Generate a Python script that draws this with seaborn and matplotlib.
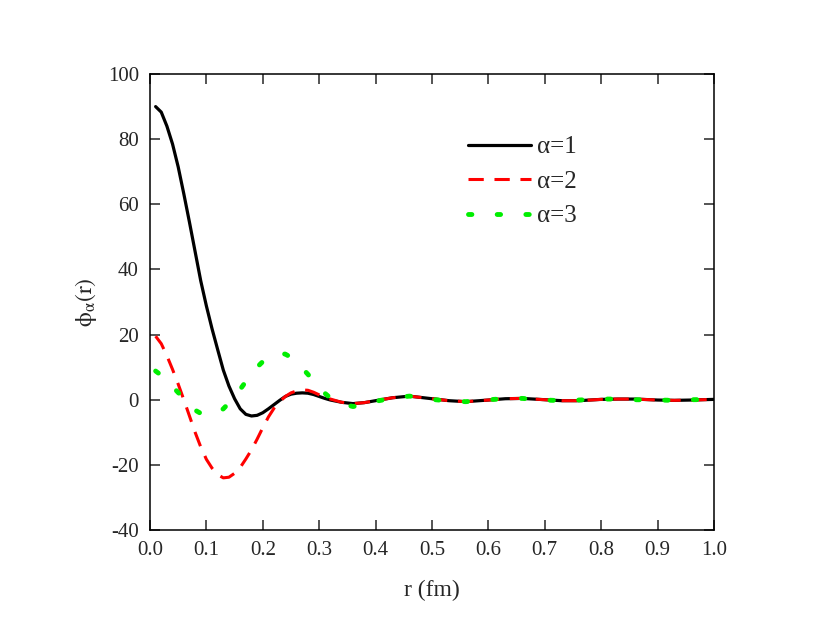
import pandas as pd
import numpy as np
import matplotlib
matplotlib.use('Agg')
import matplotlib.pyplot as plt
import seaborn as sns

# radial grid (fm) and the three components
r = [0.01, 0.02, 0.03, 0.04, 0.05, 0.06, 0.07, 0.08, 0.09, 0.10,
     0.11, 0.12, 0.13, 0.14, 0.15, 0.16, 0.17, 0.18, 0.19, 0.20,
     0.21, 0.22, 0.23, 0.24, 0.25, 0.26, 0.27, 0.28, 0.29, 0.30,
     0.31, 0.32, 0.34, 0.36, 0.38, 0.40, 0.43, 0.46, 0.50, 0.53,
     0.56, 0.60, 0.63, 0.66, 0.70, 0.73, 0.76, 0.80, 0.83, 0.86,
     0.90, 0.93, 0.96, 1.00]

phi1 = [90, 88.3, 84, 78.5, 71.5, 63.2, 54.5, 45.5, 36.5, 28.8,
        21.8, 15.4, 9.1, 4.2, 0.3, -2.8, -4.5, -5.0, -4.8, -4.0,
        -2.8, -1.5, -0.2, 1.0, 1.7, 2.0, 2.1, 2.0, 1.6, 1.0,
        0.4, -0.1, -0.8, -1.2, -0.9, -0.3, 0.6, 1.1, 0.3, -0.3,
        -0.6, -0.1, 0.3, 0.4, 0.0, -0.3, -0.3, 0.1, 0.2, 0.2,
        -0.1, -0.2, -0.1, 0.1]

phi2 = [19.5, 17.2, 13.5, 9.3, 4.8, 0.0, -5.0, -10.0, -14.5, -18.3,
        -21.0, -23.0, -24.0, -23.8, -22.6, -20.8, -18.2, -15.4, -12.1, -8.6,
        -5.3, -2.6, -0.6, 1.0, 2.1, 2.7, 3.0, 2.9, 2.3, 1.5,
        0.8, 0.2, -0.8, -1.2, -0.9, -0.3, 0.6, 1.1, 0.3, -0.3,
        -0.6, -0.1, 0.3, 0.4, 0.0, -0.3, -0.3, 0.1, 0.2, 0.2,
        -0.1, -0.2, -0.1, 0.1]

phi3 = [8.8, 7.5, 5.8, 4.0, 2.2, 0.5, -1.5, -3.2, -4.2, -4.6,
        -4.6, -4.0, -2.8, -1.0, 1.0, 3.2, 5.6, 8.0, 10.0, 11.7,
        13.0, 13.8, 14.2, 14.0, 13.0, 11.5, 9.7, 7.8, 5.8, 3.8,
        2.0, 0.5, -1.2, -2.1, -1.5, -0.5, 0.5, 1.1, 0.1, -0.4,
        -0.6, 0.0, 0.3, 0.4, -0.1, -0.3, -0.1, 0.2, 0.2, 0.0,
        -0.1, -0.2, 0.0, 0.1]

labels = ['α=1', 'α=2', 'α=3']
colors = ['black', 'red', '#00ee00']
styles = ['-', (0, (5, 3.5)), (0, (0.7, 5.2))]
widths = [2.3, 2.2, 3.5]

df = pd.DataFrame({'r': r * 3,
                   'phi': phi1 + phi2 + phi3,
                   'alpha': [labels[0]] * len(r) + [labels[1]] * len(r) + [labels[2]] * len(r)})

sns.set_style('ticks')
plt.rcParams['font.family'] = ['Liberation Serif', 'DejaVu Serif']
plt.rcParams['mathtext.fontset'] = 'stix'
plt.rcParams['axes.unicode_minus'] = False

fig = plt.figure(figsize=(8.3, 6.36), dpi=100)
ax = fig.add_axes([0.1807, 0.1667, 0.6795, 0.7169])

for lab, c, ls, lw in zip(labels, colors, styles, widths):
    sub = df[df['alpha'] == lab]
    sns.lineplot(data=sub, x='r', y='phi', ax=ax, color=c, linewidth=lw,
                 label=lab, estimator=None, sort=False)
    line = ax.get_lines()[-1]
    line.set_linestyle(ls)
    line.set_dash_capstyle('round' if lab == labels[2] else 'butt')

ax.set_xlim(0, 1.0)
ax.set_ylim(-40, 100)
ax.set_xticks(np.arange(0, 1.01, 0.1))
ax.set_xticklabels([f'{v:.1f}' for v in np.arange(0, 1.01, 0.1)])
ax.set_yticks(range(-40, 101, 20))
ax.tick_params(direction='in', length=7, width=1.1, labelsize=15,
               top=True, right=True, pad=8)
for s in ax.spines.values():
    s.set_linewidth(1.1)
    s.set_color('black')

ax.set_xlabel('r (fm)', fontsize=17, labelpad=14)
ax.set_ylabel(r'$\mathrm{\phi}_{\mathrm{\alpha}}\mathrm{(r)}$', fontsize=17, labelpad=6)

leg = ax.legend(loc='upper left', bbox_to_anchor=(0.542, 0.892), frameon=False,
                fontsize=18, handlelength=2.5, handletextpad=0.25,
                labelspacing=0.48, borderpad=0)
for h, ls in zip(leg.get_lines(), styles):
    h.set_linestyle(ls)
leg.get_lines()[2].set_dash_capstyle('round')

fig.savefig('out.png', dpi=100)
